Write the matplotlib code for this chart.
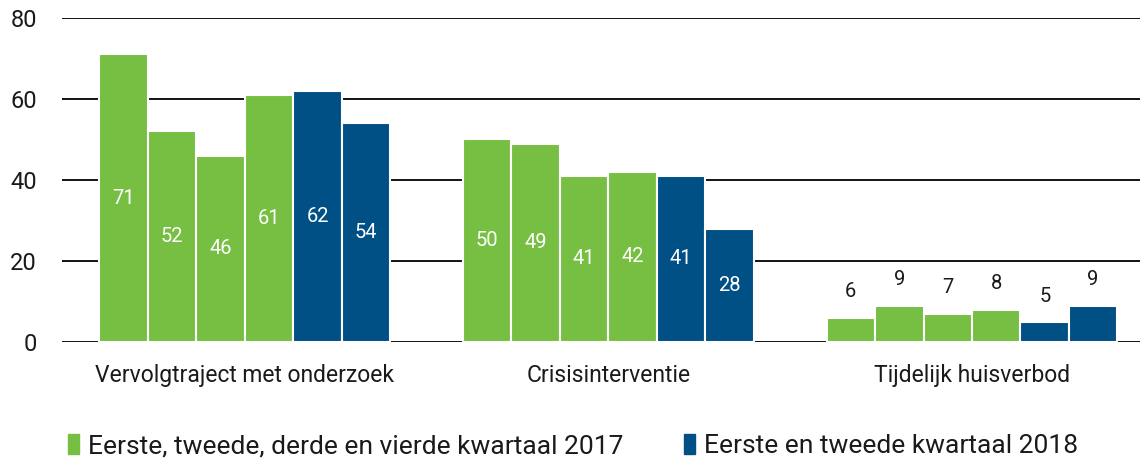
import numpy as np
import matplotlib.pyplot as plt

categories = ['Vervolgtraject met onderzoek', 'Crisisinterventie', 'Tijdelijk huisverbod']
q1_2017 = [71, 50, 6]
q2_2017 = [52, 49, 9]
q3_2017 = [46, 41, 7]
q4_2017 = [61, 42, 8]
q1_2018 = [62, 41, 5]
q2_2018 = [54, 28, 9]
series = [q1_2017, q2_2017, q3_2017, q4_2017, q1_2018, q2_2018]
series_year = [2017, 2017, 2017, 2017, 2018, 2018]
legend_labels = ['Eerste, tweede, derde en vierde kwartaal 2017',
                 'Eerste en tweede kwartaal 2018']

GREEN = '#76bf43'
BLUE = '#004f85'

plt.rcParams['font.family'] = ['Roboto', 'DejaVu Sans']

fig = plt.figure(figsize=(11.45, 4.59), dpi=100)
ax = fig.add_axes([0.0541, 0.2549, 0.9415, 0.7059])

x = np.arange(len(categories))
w = 0.8 / 6
for i, (vals, yr) in enumerate(zip(series, series_year)):
    color = GREEN if yr == 2017 else BLUE
    pos = x - 0.4 + w * (i + 0.5)
    ax.bar(pos, vals, width=w, color=color, edgecolor='white', linewidth=1.5, zorder=3)
    for p, v in zip(pos, vals):
        if v >= 15:
            ax.text(p, v / 2, str(v), ha='center', va='center', color='white',
                    fontsize=14.5, zorder=4)
        else:
            ax.text(p, v + 4.0, str(v), ha='center', va='bottom', color='#1a1a1a',
                    fontsize=14.5, zorder=4)

ax.set_ylim(0, 80)
ax.set_xlim(-0.503, 2.462)
ax.set_yticks([0, 20, 40, 60, 80])
ax.yaxis.grid(True, color='black', linewidth=1.3, zorder=1)
ax.set_axisbelow(True)
for s in ax.spines.values():
    s.set_visible(False)
ax.tick_params(axis='y', length=0, pad=18, labelsize=17, labelcolor='#1a1a1a')
ax.tick_params(axis='x', length=0, pad=16, labelsize=16.5, labelcolor='#1a1a1a')
ax.set_xticks(x)
ax.set_xticklabels(categories)

handles = [plt.Rectangle((0, 0), 1, 1, color=GREEN), plt.Rectangle((0, 0), 1, 1, color=BLUE)]
fig.legend(handles, legend_labels, loc='lower left', bbox_to_anchor=(0.039, -0.05), ncol=2,
           frameon=False, fontsize=19, handlelength=0.4, handleheight=0.75,
           handletextpad=0.35, columnspacing=2.3, labelcolor='#1a1a1a')

fig.savefig('out.png', dpi=100)
